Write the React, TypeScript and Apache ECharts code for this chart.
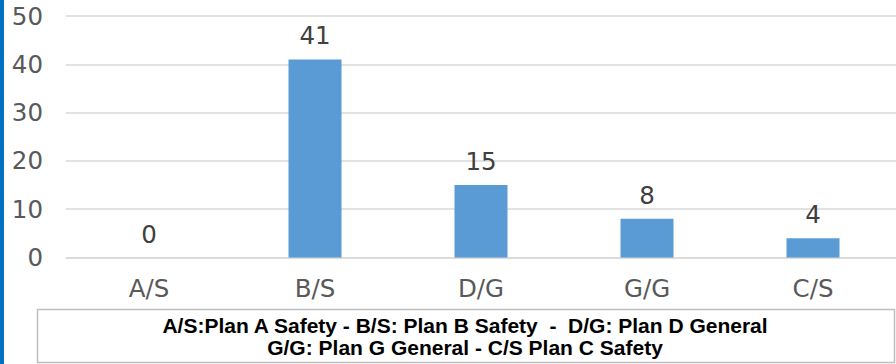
import React, { useEffect, useRef } from "react";
import * as echarts from "echarts";

const categories = ["A/S", "B/S", "D/G", "G/G", "C/S"];
const values = [0, 41, 15, 8, 4];
const yTicks = { min: 0, max: 50, interval: 10 };
const noteLines = [
  "A/S:Plan A Safety - B/S: Plan B Safety  -  D/G: Plan D General",
  "G/G: Plan G General - C/S Plan C Safety",
];

export default function App() {
  const ref = useRef<HTMLDivElement>(null);
  useEffect(() => {
    if (!ref.current) return;
    const chart = echarts.init(ref.current, null, { renderer: "svg" });
    chart.setOption({
      animation: false,
      backgroundColor: "#ffffff",
      grid: { left: 66, top: 16, width: 838, height: 241.5, containLabel: false },
      xAxis: {
        type: "category",
        data: categories,
        axisTick: { show: false },
        axisLine: { show: true, lineStyle: { color: "#d9d9d9", width: 1.5 } },
        axisLabel: {
          color: "#595959",
          fontFamily: "DejaVu Sans",
          fontSize: 24.5,
          margin: 18,
        },
      },
      yAxis: {
        type: "value",
        min: yTicks.min,
        max: yTicks.max,
        interval: yTicks.interval,
        axisLine: { show: false },
        axisTick: { show: false },
        splitLine: { lineStyle: { color: "#d9d9d9", width: 1.5 } },
        axisLabel: {
          color: "#595959",
          fontFamily: "DejaVu Sans",
          fontSize: 24.5,
          margin: 23,
        },
      },
      series: [
        {
          type: "bar",
          data: values,
          barWidth: 53,
          itemStyle: { color: "#5b9bd5" },
          label: {
            show: true,
            position: "top",
            distance: 11,
            color: "#404040",
            fontFamily: "DejaVu Sans",
            fontSize: 24.5,
          },
        },
      ],
      graphic: [
        {
          type: "rect",
          shape: { x: 0, y: 0, width: 4, height: 364 },
          style: { fill: "#0070c0" },
        },
        {
          type: "rect",
          shape: { x: 37.5, y: 309.5, width: 857, height: 53 },
          style: { fill: "#ffffff", stroke: "#bfbfbf", lineWidth: 1.5 },
        },
        {
          type: "text",
          x: 465,
          y: 336.5,
          style: {
            text: noteLines.join("\n"),
            fill: "#000000",
            font: "bold 21px 'Liberation Sans', Arial, sans-serif",
            lineHeight: 21.5,
            align: "center",
            verticalAlign: "middle",
          },
        },
      ],
    });
    return () => chart.dispose();
  }, []);
  return (
    <div
      ref={ref}
      style={{ position: "absolute", left: 0, top: 0, width: 896, height: 364 }}
    />
  );
}
